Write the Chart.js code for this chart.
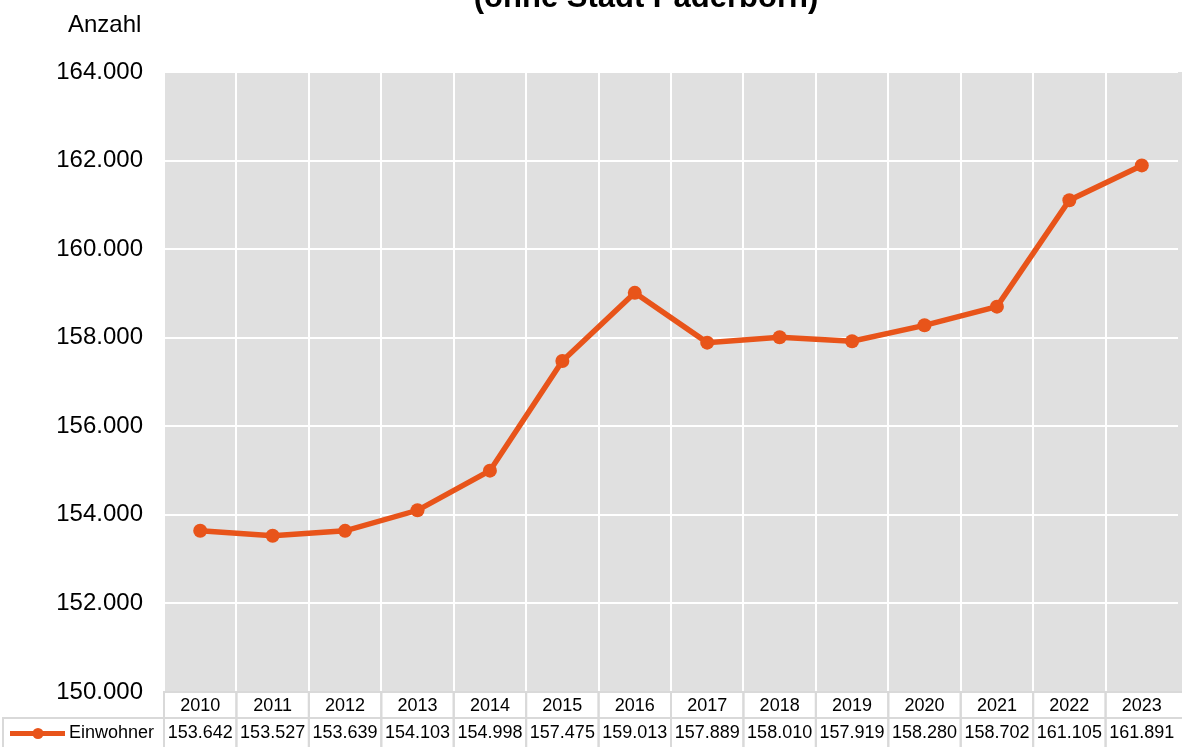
<!DOCTYPE html>
<html>
<head>
<meta charset="utf-8">
<script src="https://cdn.jsdelivr.net/npm/chart.js@4"></script>
<style>
  html, body { margin: 0; padding: 0; background: #fff; }
  #wrap { width: 1182px; height: 747px; }
</style>
</head>
<body>
<div id="wrap"><canvas id="chart" width="1182" height="747"></canvas></div>
<script>
const years = ['2010', '2011', '2012', '2013', '2014', '2015', '2016', '2017', '2018', '2019', '2020', '2021', '2022', '2023'];
const einwohner = [153642, 153527, 153639, 154103, 154998, 157475, 159013, 157889, 158010, 157919, 158280, 158702, 161105, 161891];
const yMin = 150000;
const yMax = 164000;
const yStep = 2000;
const seriesName = 'Einwohner';
const yTitle = 'Anzahl';
const subTitle = '(ohne Stadt Paderborn)';

const lineColor = '#E8541A';
const font = 'Liberation Sans, Arial, sans-serif';

// German thousands separator
function fmt(v) {
  return Math.round(v).toString().replace(/\B(?=(\d{3})+(?!\d))/g, '.');
}

const bgPlugin = {
  id: 'bg',
  beforeDraw(chart) {
    const { ctx, chartArea: a } = chart;
    ctx.save();
    ctx.fillStyle = '#fff';
    ctx.fillRect(0, 0, chart.width, chart.height);
    // plot area runs out to the right edge of the picture
    ctx.fillStyle = '#e0e0e0';
    ctx.fillRect(a.left, a.top, chart.width - a.left, a.bottom - a.top);
    ctx.restore();
  }
};

// data table under the plot + texts
const tablePlugin = {
  id: 'table',
  afterDraw(chart) {
    const { ctx, chartArea: a } = chart;
    const x = chart.scales.x;
    const half = (x.getPixelForValue(1) - x.getPixelForValue(0)) / 2;
    const r1 = a.bottom, r2 = a.bottom + 26, r3 = chart.height + 2;

    ctx.save();
    ctx.fillStyle = '#fff';
    ctx.fillRect(a.left, r1, chart.width - a.left, chart.height - r1);
    ctx.strokeStyle = '#d9d9d9';
    ctx.lineWidth = 2;
    ctx.fillStyle = '#000';
    ctx.font = '18px ' + font;
    ctx.textAlign = 'center';
    ctx.textBaseline = 'middle';

    years.forEach((y, i) => {
      const cx = x.getPixelForValue(i);
      const w = i === years.length - 1 ? chart.width + 4 - (cx - half) : half * 2;
      ctx.strokeRect(cx - half, r1, w, r2 - r1);
      ctx.strokeRect(cx - half, r2, w, r3 - r2);
      ctx.fillText(y, cx, (r1 + r2) / 2 + 1);
      ctx.fillText(fmt(einwohner[i]), cx, (r2 + r3) / 2);
    });

    // legend cell
    ctx.strokeRect(3, r2, a.left - 3, r3 - r2);
    const ly = (r2 + r3) / 2;
    ctx.strokeStyle = lineColor;
    ctx.lineWidth = 5;
    ctx.beginPath();
    ctx.moveTo(10, ly);
    ctx.lineTo(65, ly);
    ctx.stroke();
    ctx.fillStyle = lineColor;
    ctx.beginPath();
    ctx.arc(38, ly, 5.5, 0, Math.PI * 2);
    ctx.fill();
    ctx.fillStyle = '#000';
    ctx.textAlign = 'left';
    ctx.fillText(seriesName, 69, ly);

    // axis title
    ctx.font = '24px ' + font;
    ctx.textBaseline = 'alphabetic';
    ctx.fillText(yTitle, 68, 32);

    // title, cut off at the top
    ctx.font = 'bold 31px ' + font;
    ctx.textAlign = 'center';
    ctx.fillText(subTitle, 646, 7);
    ctx.restore();
  }
};

new Chart(document.getElementById('chart'), {
  type: 'line',
  data: {
    labels: years,
    datasets: [{
      label: seriesName,
      data: einwohner,
      borderColor: lineColor,
      backgroundColor: lineColor,
      borderWidth: 5.5,
      pointRadius: 7,
      pointBorderWidth: 0,
      pointBackgroundColor: lineColor,
      tension: 0
    }]
  },
  options: {
    responsive: false,
    animation: false,
    layout: { autoPadding: false, padding: { top: 72, right: 4, bottom: 55, left: 0 } },
    plugins: {
      legend: { display: false },
      tooltip: { enabled: false }
    },
    scales: {
      x: {
        type: 'category',
        offset: true,
        grid: {
          offset: true,
          // no line on the far right edge
          color: c => c.type === 'tick' ? '#fff' : 'rgba(0,0,0,0)',
          lineWidth: 2,
          drawTicks: false
        },
        border: { display: false },
        ticks: { display: false }
      },
      y: {
        min: yMin,
        max: yMax,
        afterFit(scale) { scale.width = 164; },
        grid: { color: '#fff', lineWidth: 2, drawTicks: false },
        border: { display: false },
        ticks: {
          stepSize: yStep,
          padding: 21,
          color: '#000',
          font: { family: font, size: 24 },
          callback: v => fmt(v)
        }
      }
    }
  },
  plugins: [bgPlugin, tablePlugin]
});
</script>
</body>
</html>
